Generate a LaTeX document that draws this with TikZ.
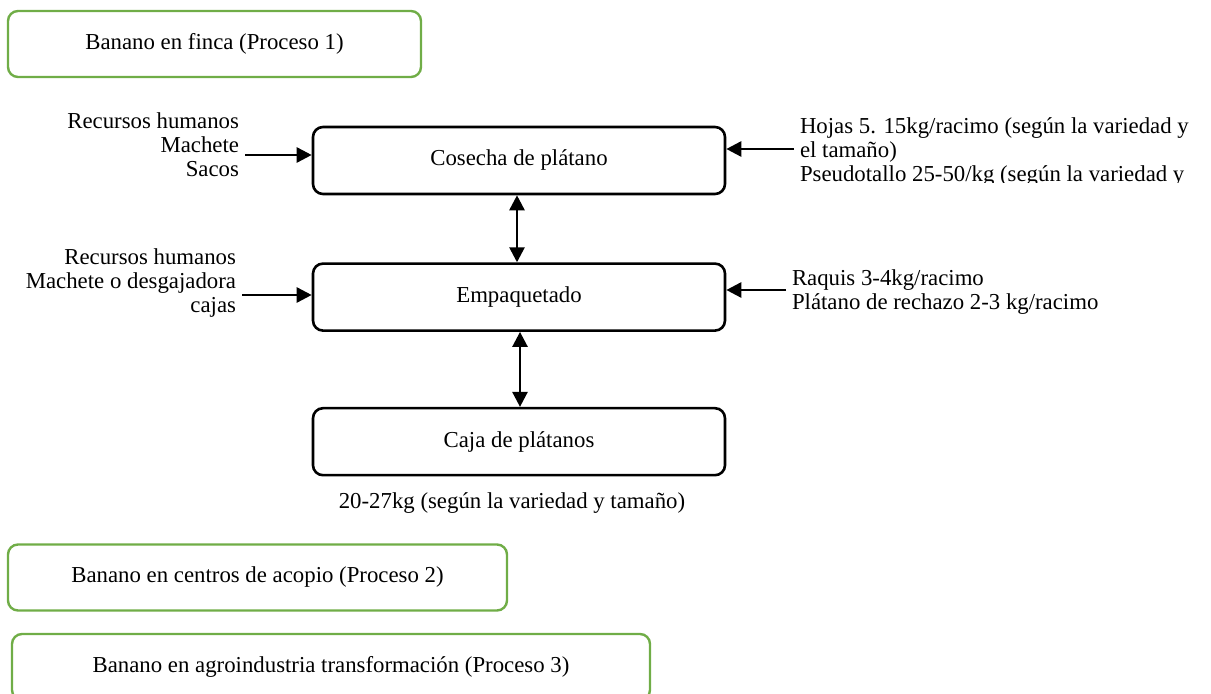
\documentclass[tikz,border=0pt]{standalone}
\usepackage{fontspec}
\setmainfont{Liberation Serif}
\usetikzlibrary{arrows.meta,positioning}
\definecolor{Verde}{HTML}{70AD47}

\begin{document}
\begin{tikzpicture}[
  x=0.5pt,y=-0.5pt,
  font=\fontsize{11.4}{12}\selectfont,
  proceso/.style={rounded corners=5pt,draw=Verde,line width=1.2pt,minimum height=33pt,align=center},
  paso/.style={rounded corners=5pt,draw=black,line width=1.3pt,minimum width=206pt,minimum height=33.5pt,align=center},
  texto/.style={inner sep=0pt,outer sep=3pt},
  flecha/.style={-{Triangle[length=7.5pt,width=7.5pt]},line width=1.3pt},
  doble/.style={{Triangle[length=7.5pt,width=7.5pt]}-{Triangle[length=7.5pt,width=7.5pt]},line width=1.3pt}
]
\useasboundingbox (0,0) rectangle (1211,694);
\clip (0,0) rectangle (1211,694);
% procesos
\node[proceso,minimum width=206.5pt] (finca) at (214.5,44) {Banano en finca (Proceso 1)};
\node[proceso,minimum width=249.5pt] (acopio) at (257.5,577.5) {Banano en centros de acopio (Proceso 2)};
\node[proceso,minimum width=319pt] (agro) at (331,667) {Banano en agroindustria transformación (Proceso 3)};
% cadena principal
\node[paso] (cosecha) at (519,160.5) {Cosecha de plátano};
\node[paso,below=33.5pt of cosecha] (empaque) {Empaquetado};
\node[paso,below=37.5pt of empaque] (caja) {Caja de plátanos};
\node[texto,below=5pt of caja,xshift=-3.5pt] (peso) {20-27kg (según la variedad y tamaño)};
% entradas
\node[texto,align=right,anchor=east] (entrada1) at (245,145) {Recursos humanos\\Machete\\Sacos};
\node[texto,align=right,anchor=east] (entrada2) at (242,283) {Recursos humanos\\Machete o desgajadora\\cajas};
% salidas
\begin{scope}
\clip (780,100) rectangle (1211,183);
\node[texto,align=left,anchor=west] (salida1) at (794,152.5) {Hojas 5. 15kg/racimo (según la variedad y\\el tamaño)\\Pseudotallo 25-50/kg (según la variedad y};
\end{scope}
\node[texto,align=left,anchor=west] (salida2) at (786,292) {Raquis 3-4kg/racimo\\Plátano de rechazo 2-3 kg/racimo};
% flechas
\draw[flecha] (entrada1.east |- 0,155) -- (cosecha.west |- 0,155);
\draw[flecha] (entrada2.east |- 0,295) -- (empaque.west |- 0,295);
\draw[flecha] (salida1.west |- 0,149) -- (cosecha.east |- 0,149);
\draw[flecha] (salida2.west |- 0,290) -- (empaque.east |- 0,290);
\draw[doble] (517,0 |- cosecha.south) -- (517,0 |- empaque.north);
\draw[doble] (520,0 |- empaque.south) -- (520,0 |- caja.north);
\end{tikzpicture}
\end{document}
